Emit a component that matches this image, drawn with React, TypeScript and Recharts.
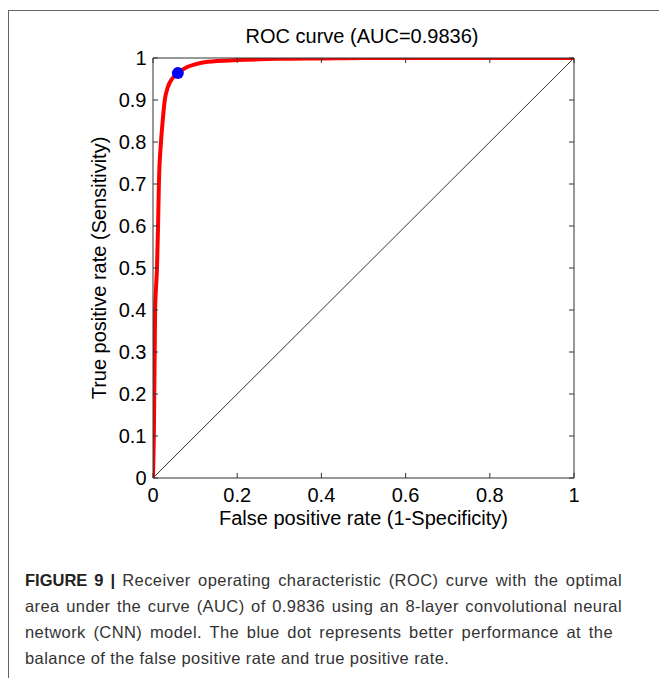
import { ComposedChart, Line, Scatter, XAxis, YAxis, Label } from "recharts";

// ROC curve
const rocFpr = [0, 0.001, 0.002, 0.003, 0.004, 0.005, 0.007, 0.0095, 0.012, 0.014, 0.019, 0.023, 0.028, 0.035, 0.045, 0.059, 0.08, 0.1, 0.13, 0.2, 0.3, 0.4, 0.5, 0.7, 1];
const rocTpr = [0, 0.05, 0.1, 0.2, 0.3, 0.4, 0.45, 0.5, 0.6, 0.7, 0.8, 0.85, 0.9, 0.93, 0.95, 0.964, 0.978, 0.985, 0.991, 0.995, 0.998, 0.999, 1, 1, 1];

// chance diagonal
const chanceFpr = [0, 1];
const chanceTpr = [0, 1];

// optimal operating point (blue dot)
const optimalFpr = [0.059];
const optimalTpr = [0.964];

const xTicks = [0, 0.2, 0.4, 0.6, 0.8, 1];
const yTicks = [0, 0.1, 0.2, 0.3, 0.4, 0.5, 0.6, 0.7, 0.8, 0.9, 1];

const captionLines = [
  "Receiver operating characteristic (ROC) curve with the optimal",
  "area under the curve (AUC) of 0.9836 using an 8-layer convolutional neural",
  "network (CNN) model. The blue dot represents better performance at the",
  "balance of the false positive rate and true positive rate.",
];
const captionEnds = [622, 622, 613, 0];

const rocData = rocFpr.map((x, i) => ({ x, y: rocTpr[i] }));
const chanceData = chanceFpr.map((x, i) => ({ x, y: chanceTpr[i] }));
const optimalData = optimalFpr.map((x, i) => ({ x, y: optimalTpr[i] }));

const font = "'Liberation Sans', Arial, sans-serif";
const axisColor = "#333";
const noTick = () => <g />;

export default function App() {
  return (
    <div style={{ position: "absolute", left: 0, top: 0, width: 659, height: 678, background: "#fff", fontFamily: font, overflow: "hidden" }}>
      <div style={{ position: "absolute", left: 8, top: 10, width: 700, height: 700, borderTop: "1px solid #666", borderLeft: "1px solid #666" }} />
      <div style={{ position: "absolute", left: 0, top: 26, width: 724, textAlign: "center", fontSize: 20, lineHeight: "20px", color: "#000" }}>
        ROC curve (AUC=0.9836)
      </div>
      <div style={{ position: "absolute", left: 0, top: 0 }}>
        <ComposedChart width={659} height={540} margin={{ top: 57, right: 84, bottom: 0, left: 80 }}>
          <XAxis
            xAxisId="b" dataKey="x" type="number" domain={[0, 1]} ticks={xTicks} interval={0} allowDataOverflow
            height={62} tickSize={-5} tickMargin={15} stroke={axisColor}
            tick={{ fontSize: 20, fill: "#000", fontFamily: font }}
          >
            <Label value="False positive rate (1-Specificity)" position="insideBottom" offset={15.5} style={{ fontSize: 20, fill: "#000", fontFamily: font }} />
          </XAxis>
          <XAxis xAxisId="t" orientation="top" dataKey="x" type="number" domain={[0, 1]} ticks={xTicks} interval={0} height={1} tickSize={-5} stroke={axisColor} tick={noTick} />
          <YAxis
            yAxisId="l" dataKey="y" type="number" domain={[0, 1]} ticks={yTicks} interval={0} allowDataOverflow
            width={73} tickSize={-5} tickMargin={11.5} stroke={axisColor}
            tick={{ fontSize: 20, fill: "#000", fontFamily: font }}
          >
            <Label value="True positive rate (Sensitivity)" angle={-90} position="insideLeft" offset={19} style={{ fontSize: 20, fill: "#000", fontFamily: font, textAnchor: "middle" }} />
          </YAxis>
          <YAxis yAxisId="r" orientation="right" dataKey="y" type="number" domain={[0, 1]} ticks={yTicks} interval={0} width={1} tickSize={-5} stroke={axisColor} tick={noTick} />
          <Line xAxisId="t" yAxisId="r" data={chanceData} dataKey="y" type="linear" stroke="#000" strokeWidth={0.8} dot={false} isAnimationActive={false} />
          <Line xAxisId="b" yAxisId="l" data={rocData} dataKey="y" type="monotone" stroke="#ff0000" strokeWidth={4} dot={false} isAnimationActive={false} />
          <Scatter
            xAxisId="b" yAxisId="l" data={optimalData} dataKey="y" isAnimationActive={false}
            shape={(p: any) => <circle cx={p.cx} cy={p.cy} r={6} fill="#0000ff" />}
          />
        </ComposedChart>
      </div>
      {captionLines.map((line, i) => (
        <div
          key={i}
          style={{
            position: "absolute", left: 25, top: 570 + i * 26,
            width: captionEnds[i] ? captionEnds[i] - 25 : 620,
            fontSize: 16.5, lineHeight: "20px", letterSpacing: 0.42, color: "#333",
            textAlign: captionEnds[i] ? "justify" : "left", textAlignLast: captionEnds[i] ? "justify" : "left",
          }}
        >
          {i === 0 && <b style={{ color: "#222", letterSpacing: 0 }}>FIGURE 9 | </b>}
          {line}
        </div>
      ))}
    </div>
  );
}
